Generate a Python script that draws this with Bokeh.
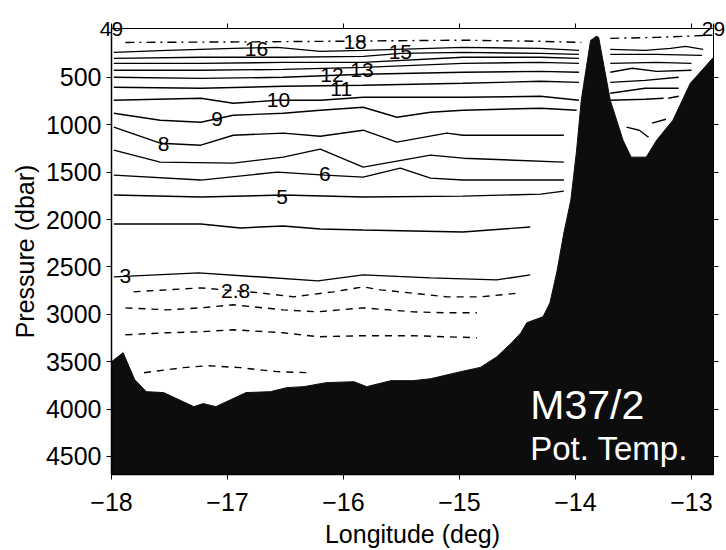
from bokeh.plotting import figure
from bokeh.models import Range1d, FixedTicker, LinearAxis, Label, ColumnDataSource
from bokeh.embed import file_html
from bokeh.resources import INLINE
from bokeh.core.properties import value

FONT = "Liberation Sans"

# ---- axes ----
lon_ticks = [-18, -17, -16, -15, -14, -13]
lon_tick_labels = ["\u221218", "\u221217", "\u221216", "\u221215", "\u221214", "\u221213"]
p_ticks = [500, 1000, 1500, 2000, 2500, 3000, 3500, 4000, 4500]

# ---- bathymetry (longitude, pressure of sea floor) ----
bottom_lon = [-18.0, -17.90, -17.80, -17.70, -17.55, -17.29, -17.21, -17.10, -16.97, -16.84,
              -16.63, -16.49, -16.34, -16.15, -15.91, -15.80, -15.59, -15.40, -15.25, -14.97,
              -14.82, -14.68, -14.55, -14.47, -14.42, -14.28, -14.22, -14.16, -14.10, -14.04,
              -13.99, -13.95, -13.87, -13.82, -13.80, -13.70, -13.59, -13.52, -13.39, -13.30,
              -13.16, -13.01, -12.81]
bottom_p = [3500, 3405, 3689, 3816, 3826, 3974, 3942, 3974, 3900, 3826,
            3816, 3774, 3763, 3721, 3711, 3763, 3700, 3700, 3680, 3600,
            3560, 3450, 3300, 3195, 3089, 3026, 2879, 2550, 2142, 1795,
            1268, 742, 111, 68, 79, 742, 1163, 1342, 1342, 1163,
            953, 563, 289]

# ---- isotherms (potential temperature, deg C) ----
iso18_lon = [-17.88, -16.80, -15.90, -15.00, -14.30, -13.95]
iso18_p = [132, 126, 118, 108, 120, 132]
iso18e_lon = [-13.70, -13.30, -12.87]
iso18e_p = [89, 79, 58]

iso16_lon = [-17.98, -17.52, -16.95, -16.57, -16.20, -15.83, -14.97, -14.30, -13.97]
iso16_p = [237, 216, 195, 184, 226, 216, 184, 195, 216]
iso16e_lon = [-13.70, -13.40, -13.18, -13.05, -12.90]
iso16e_p = [205, 216, 195, 174, 205]

iso15_lon = [-17.98, -17.23, -16.52, -15.83, -15.50, -14.97, -14.30, -13.97]
iso15_p = [300, 289, 289, 279, 247, 237, 247, 258]
iso15e_lon = [-13.70, -13.30, -12.91]
iso15e_p = [258, 258, 268]

iso14_lon = [-17.98, -17.23, -16.52, -15.83, -14.97, -14.30, -13.97]
iso14_p = [353, 353, 342, 342, 289, 289, 300]
iso14e_lon = [-13.70, -13.30, -13.00]
iso14e_p = [353, 342, 353]

iso13_lon = [-17.98, -17.23, -16.52, -15.83, -14.97, -14.30, -13.97]
iso13_p = [426, 426, 416, 395, 353, 342, 353]
iso13e_lon = [-13.70, -13.51, -13.30, -13.00]
iso13e_p = [447, 405, 437, 426]

iso12_lon = [-17.98, -17.23, -16.52, -15.83, -14.97, -14.30, -13.97]
iso12_p = [500, 511, 500, 468, 447, 437, 447]
iso12e_lon = [-13.70, -13.40, -13.11]
iso12e_p = [553, 532, 500]

iso11_lon = [-17.98, -17.23, -16.52, -15.83, -14.97, -14.30, -13.97]
iso11_p = [605, 616, 595, 584, 563, 542, 553]
iso11e_lon = [-13.70, -13.40, -13.11]
iso11e_p = [668, 616, 616]

iso10_lon = [-17.98, -17.23, -16.95, -16.57, -16.20, -15.83, -14.97, -14.30, -13.97]
iso10_p = [742, 721, 774, 742, 742, 711, 711, 700, 742]
iso10e_lon = [-13.70, -13.40, -13.24]
iso10e_p = [742, 732, 721]
iso10f_lon = [-13.20, -13.11]
iso10f_p = [721, 700]

iso9_lon = [-17.98, -17.58, -17.23, -16.95, -16.52, -16.20, -15.83, -15.54, -15.25, -14.97, -14.30, -13.99]
iso9_p = [879, 953, 974, 900, 879, 847, 816, 921, 868, 847, 826, 847]
iso9e_lon = [-13.56, -13.45, -13.37]
iso9e_p = [1026, 1058, 1132]
iso9f_lon = [-13.34, -13.22]
iso9f_p = [984, 942]

iso8_lon = [-17.98, -17.58, -17.23, -16.95, -16.52, -16.20, -15.83, -15.54, -15.11, -14.97, -14.10]
iso8_p = [1026, 1195, 1216, 1111, 1089, 1121, 1058, 1184, 1089, 1111, 1111]

iso7_lon = [-17.98, -17.58, -16.95, -16.52, -16.20, -15.83, -15.25, -14.97, -14.10]
iso7_p = [1268, 1395, 1405, 1342, 1258, 1447, 1321, 1353, 1395]

iso6_lon = [-17.98, -17.23, -16.57, -16.16, -15.83, -15.51, -15.25, -14.97, -14.10]
iso6_p = [1532, 1584, 1500, 1532, 1553, 1458, 1563, 1584, 1584]

iso5_lon = [-17.98, -17.23, -16.52, -15.83, -14.97, -14.30, -14.10]
iso5_p = [1742, 1763, 1742, 1763, 1753, 1732, 1700]

iso4_lon = [-17.98, -17.23, -16.89, -16.52, -16.20, -15.83, -14.97, -14.39]
iso4_p = [2047, 2047, 2089, 2068, 2100, 2111, 2132, 2079]

iso3_lon = [-17.98, -17.25, -16.22, -15.83, -15.25, -14.68, -14.39]
iso3_p = [2605, 2563, 2647, 2584, 2616, 2637, 2584]

iso28_lon = [-17.81, -17.52, -17.23, -16.72, -16.43, -16.09, -15.83, -15.68, -15.11, -14.82, -14.47]
iso28_p = [2763, 2742, 2721, 2774, 2816, 2763, 2711, 2742, 2816, 2816, 2774]

iso27_lon = [-17.88, -17.52, -17.23, -16.95, -16.52, -16.22, -15.83, -15.40, -15.11, -14.85]
iso27_p = [2932, 2953, 2932, 2900, 2953, 2974, 2932, 2974, 2984, 2984]

iso26_lon = [-17.88, -17.52, -17.23, -16.95, -16.52, -16.22, -15.83, -15.40, -15.11, -14.85]
iso26_p = [3216, 3195, 3184, 3163, 3195, 3237, 3226, 3226, 3237, 3247]

iso25_lon = [-17.72, -17.38, -17.17, -16.89, -16.57, -16.30]
iso25_p = [3616, 3563, 3542, 3563, 3605, 3616]

# ---- contour labels ----
label_text = ["18", "16", "15", "13", "12", "11", "10", "9", "8", "6", "5", "3", "2.8"]
label_lon = [-15.90, -16.75, -15.51, -15.84, -16.10, -16.02, -16.56, -17.09, -17.55, -16.16, -16.53, -17.88, -16.93]
label_p = [132, 200, 236, 427, 480, 625, 740, 940, 1205, 1520, 1760, 2600, 2755]

# ---- station numbers at the two ends of the section ----
station_lon = [-18.0, -12.81]
station_text = ["49", "29"]

solid_lines = [
    (iso16_lon, iso16_p), (iso16e_lon, iso16e_p),
    (iso15_lon, iso15_p), (iso15e_lon, iso15e_p),
    (iso14_lon, iso14_p), (iso14e_lon, iso14e_p),
    (iso13_lon, iso13_p), (iso13e_lon, iso13e_p),
    (iso12_lon, iso12_p), (iso12e_lon, iso12e_p),
    (iso11_lon, iso11_p), (iso11e_lon, iso11e_p),
    (iso10_lon, iso10_p), (iso10e_lon, iso10e_p), (iso10f_lon, iso10f_p),
    (iso9_lon, iso9_p), (iso9e_lon, iso9e_p), (iso9f_lon, iso9f_p),
    (iso8_lon, iso8_p), (iso7_lon, iso7_p), (iso6_lon, iso6_p),
    (iso5_lon, iso5_p), (iso4_lon, iso4_p), (iso3_lon, iso3_p),
]
dashed_lines = [(iso28_lon, iso28_p), (iso27_lon, iso27_p), (iso26_lon, iso26_p), (iso25_lon, iso25_p)]
dashdot_lines = [(iso18_lon, iso18_p), (iso18e_lon, iso18e_p)]

P_TOP, P_BOTTOM = -15, 4690
LON_LEFT, LON_RIGHT = -18.0, -12.81

p = figure(width=726, height=550,
           x_range=Range1d(LON_LEFT, LON_RIGHT), y_range=Range1d(P_BOTTOM, P_TOP),
           output_backend="svg", toolbar_location=None,
           min_border_left=111, min_border_right=13, min_border_top=28, min_border_bottom=75)
p.background_fill_color = "white"
p.border_fill_color = "white"
p.outline_line_color = "black"
p.outline_line_width = 1
p.xgrid.visible = False
p.ygrid.visible = False

LW = 1.4
p.multi_line([l[0] for l in solid_lines], [l[1] for l in solid_lines],
             line_color="black", line_width=LW)
p.multi_line([l[0] for l in dashed_lines], [l[1] for l in dashed_lines],
             line_color="black", line_width=LW, line_dash="7 6")
p.multi_line([l[0] for l in dashdot_lines], [l[1] for l in dashdot_lines],
             line_color="black", line_width=LW, line_dash="9 5 2 5")

# sea floor
patch_x = bottom_lon + [bottom_lon[-1], bottom_lon[0]]
patch_y = bottom_p + [P_BOTTOM + 50, P_BOTTOM + 50]
p.patch(patch_x, patch_y, fill_color="#0d0d0d", line_color="#0d0d0d", line_width=1)

lab_src = ColumnDataSource(dict(x=label_lon, y=label_p, t=label_text))
p.text(x="x", y="y", text="t", source=lab_src, text_font=value(FONT),
       text_font_size="21px", text_align="center", text_baseline="middle", text_color="black")

p.add_layout(Label(x=-14.39, y=3953, text="M37/2", text_font=FONT, text_font_size="41px",
                   text_color="white", text_align="left", text_baseline="alphabetic"))
p.add_layout(Label(x=-14.39, y=4416, text="Pot. Temp.", text_font=FONT, text_font_size="33px",
                   text_color="white", text_align="left", text_baseline="alphabetic"))

# main axes
xa = p.xaxis[0]
xa.ticker = FixedTicker(ticks=lon_ticks)
xa.major_label_overrides = {float(k): v for k, v in zip(lon_ticks, lon_tick_labels)}
xa.axis_label = "Longitude (deg)"
ya = p.yaxis[0]
ya.ticker = FixedTicker(ticks=p_ticks)
ya.axis_label = "Pressure (dbar)"
for ax in (xa, ya):
    ax.major_label_text_font = FONT
    ax.major_label_text_font_size = "25px"
    ax.major_label_text_color = "black"
    ax.axis_label_text_font = FONT
    ax.axis_label_text_font_size = "25px"
    ax.axis_label_text_font_style = "normal"
    ax.axis_label_text_color = "black"
    ax.axis_line_color = "black"
    ax.axis_line_width = 1.5
    ax.major_tick_line_color = "black"
    ax.major_tick_in = 0
    ax.major_tick_out = 5
    ax.minor_tick_line_color = None
xa.major_label_standoff = 13
xa.axis_label_standoff = 6
ya.major_label_standoff = 5
ya.axis_label_standoff = 4

# top frame: ticks, with the station numbers at both ends
top_ticks = lon_ticks + [LON_RIGHT]
top_over = {float(t): "" for t in lon_ticks}
for t, s in zip(station_lon, station_text):
    top_over[float(t)] = s
top = LinearAxis(ticker=FixedTicker(ticks=top_ticks), major_label_overrides=top_over,
                 major_label_text_font=FONT, major_label_text_font_size="21px",
                 major_label_text_color="black", major_label_standoff=-12,
                 major_tick_in=0, major_tick_out=5, minor_tick_line_color=None,
                 axis_line_color="black", axis_line_width=1)
right = LinearAxis(ticker=FixedTicker(ticks=p_ticks),
                   major_label_overrides={float(t): "" for t in p_ticks},
                   major_tick_in=0, major_tick_out=5, minor_tick_line_color=None,
                   axis_line_color="black", major_label_standoff=0)
p.add_layout(top, "above")
p.add_layout(right, "right")

open("out.html", "w").write(file_html(p, INLINE))
